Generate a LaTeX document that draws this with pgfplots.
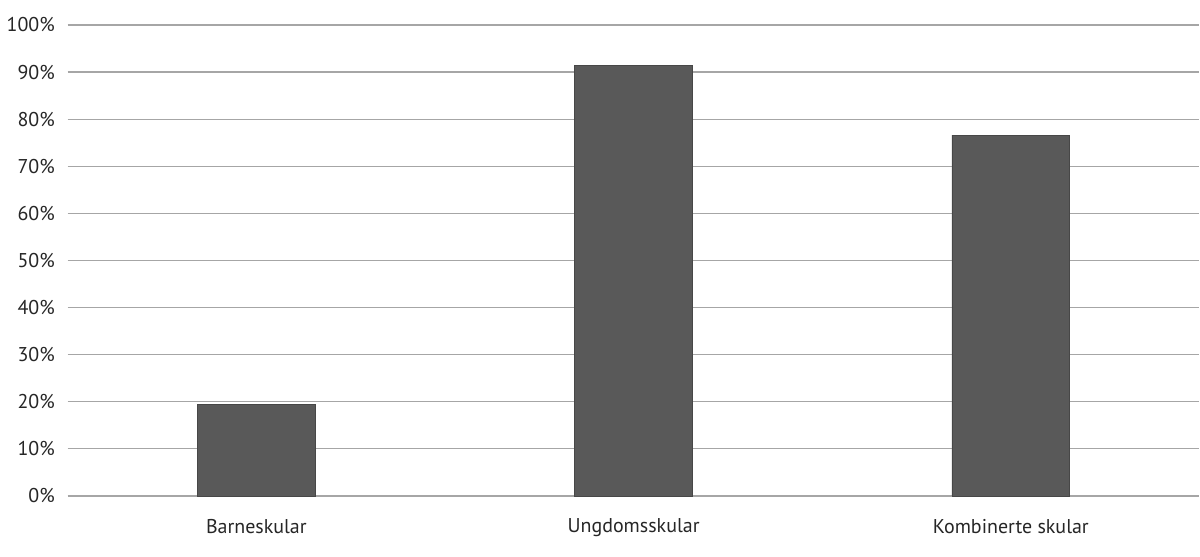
\documentclass[border=0pt]{standalone}
\usepackage{fontspec}
\setmainfont{PT Sans}
\usepackage{pgfplots}
\pgfplotsset{compat=1.18}
\definecolor{barcol}{HTML}{595959}
\definecolor{gridcol}{HTML}{A6A6A6}
\begin{document}
\fontsize{10pt}{12pt}\selectfont
\begin{tikzpicture}
\begin{axis}[
    scale only axis,
    width=567pt, height=236pt,
    ybar, bar width=59pt,
    xmin=-0.5, xmax=2.5,
    ymin=0, ymax=100,
    xtick=data,
    xticklabels={Barneskular, Ungdomsskular, Kombinerte skular},
    ytick={0,10,...,100},
    yticklabel={\pgfmathprintnumber{\tick}\%},
    /pgf/number format/assume math mode=true,
    ymajorgrids,
    grid style={gridcol, line width=0.6pt},
    axis line style={draw=none},
    major tick length=0pt,
    tick label style={font=\fontsize{10pt}{12pt}\selectfont, text=black!85},
    yticklabel style={xshift=-3pt},
    xticklabel style={yshift=-8pt},
    clip=false,
]
\addplot[fill=barcol, draw=barcol!80!black, line width=0.3pt] coordinates {
    (0,19.4) (1,91.4) (2,76.6)
};
\end{axis}
\path (current axis.south west) ++(-32.5pt,-30.5pt);
\path (current axis.north east) ++(0,12.5pt);
\end{tikzpicture}
\end{document}
